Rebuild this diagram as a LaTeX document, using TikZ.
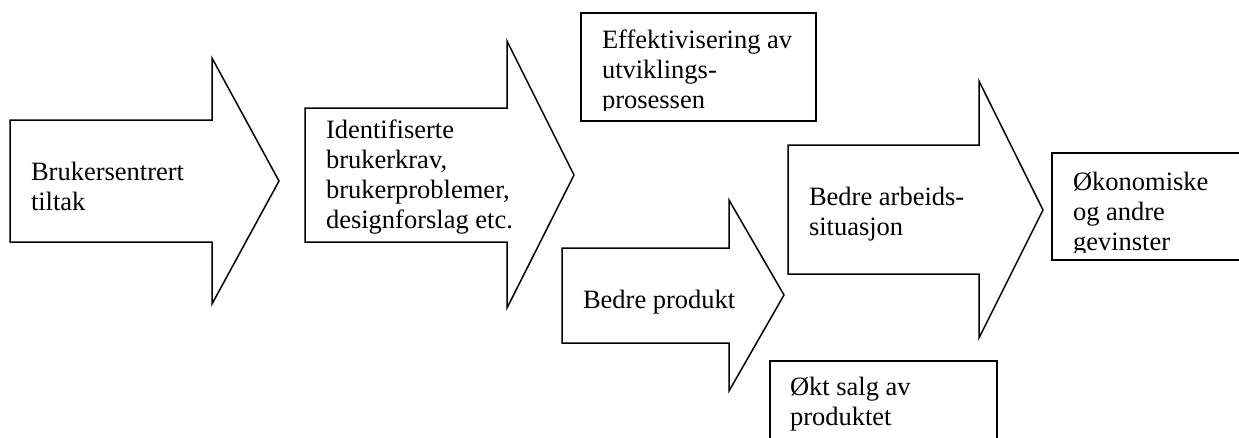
\documentclass[tikz,border=0pt]{standalone}
\usepackage{fontspec}
\setmainfont{Liberation Serif}
\newcommand\txtlines[1]{\vtop{\baselineskip=30pt\lineskiplimit=-20pt #1}}
\begin{document}
\begin{tikzpicture}[x=1pt,y=-1pt,
  shp/.style={draw=black,line width=1.5pt,fill=white,line join=miter},
  lbl/.style={anchor=base west,inner sep=0pt,outer sep=0pt,font=\fontsize{26.5}{30}\selectfont}]
\useasboundingbox (0,0) rectangle (1239,437);
\fill[white] (0,0) rectangle (1239,437);
% arrows
\draw[shp] (10,120) -- (212,120) -- (212,58) -- (279,181) -- (212,304) -- (212,242) -- (10,242) -- cycle;
\draw[shp] (305,108) -- (507,108) -- (507,41) -- (574,175) -- (507,308) -- (507,242) -- (305,242) -- cycle;
\draw[shp] (562,248) -- (729,248) -- (729,200) -- (784,295) -- (729,391) -- (729,343) -- (562,343) -- cycle;
\draw[shp] (788,145) -- (979,145) -- (979,81) -- (1043,210) -- (979,338) -- (979,274) -- (788,274) -- cycle;
% boxes
\draw[shp] (581,13) rectangle (816,121);
\draw[shp] (1052,153) rectangle (1260,260);
\draw[shp] (770,361) rectangle (997,460);
% texts
\node[lbl] (t1) at (31,180) {\txtlines{\hbox{Brukersentrert}\hbox{tiltak}}};
\node[lbl] (t2) at (326,138) {\txtlines{\hbox{Identifiserte}\hbox{brukerkrav,}\hbox{brukerproblemer,}\hbox{designforslag etc.}}};
\begin{scope}
\clip (583,15) rectangle (814,110);
\node[lbl] (t3) at (602,48) {\txtlines{\hbox{Effektivisering av}\hbox{utviklings-}\hbox{prosessen}}};
\end{scope}
\node[lbl] (t4) at (583,308) {Bedre produkt};
\node[lbl] (t5) at (809,205) {\txtlines{\hbox{Bedre arbeids-}\hbox{situasjon}}};
\begin{scope}
\clip (1054,155) rectangle (1258,252);
\node[lbl] (t6) at (1073,190) {\txtlines{\hbox{Økonomiske}\hbox{og andre}\hbox{gevinster}}};
\end{scope}
\node[lbl] (t7) at (790,395) {\txtlines{\hbox{Økt salg av}\hbox{produktet}}};
\end{tikzpicture}
\end{document}
